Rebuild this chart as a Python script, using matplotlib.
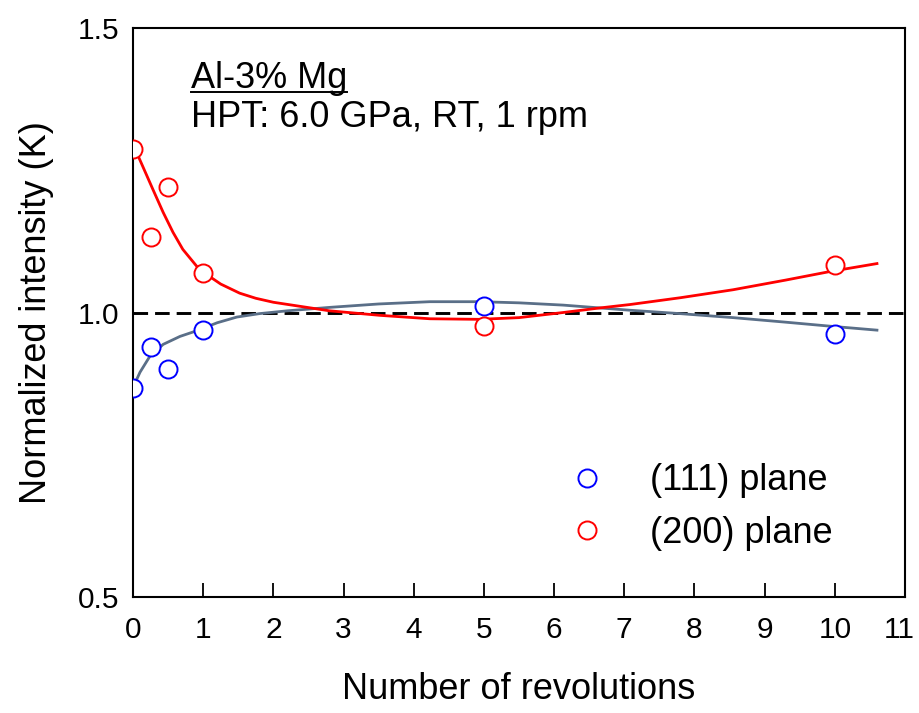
import matplotlib
matplotlib.use("Agg")
import matplotlib.pyplot as plt
from matplotlib.lines import Line2D
from matplotlib.transforms import ScaledTranslation

plt.rcParams['font.family'] = ['Liberation Sans', 'DejaVu Sans']

# measured normalized intensities
revs = [0, 0.25, 0.5, 1, 5, 10]
k111 = [0.868, 0.940, 0.900, 0.970, 1.012, 0.963]
k200 = [1.288, 1.132, 1.221, 1.070, 0.977, 1.083]

# trend curves
fit200_x = [0.0, 0.085, 0.285, 0.43, 0.57, 0.71, 0.91, 1.0, 1.25, 1.52, 1.75, 2.0,
            2.48, 2.8, 3.52, 4.23, 4.94, 5.5, 6.13, 6.65, 7.08, 7.8, 8.55, 9.3,
            9.93, 10.6]
fit200_y = [1.288, 1.272, 1.216, 1.176, 1.141, 1.111, 1.081, 1.071, 1.050, 1.034,
            1.025, 1.018, 1.009, 1.003, 0.995, 0.989, 0.988, 0.991, 1.000, 1.008,
            1.014, 1.026, 1.040, 1.057, 1.072, 1.086]
fit111_x = [0.0, 0.1, 0.24, 0.43, 0.67, 0.91, 1.2, 1.48, 1.8, 2.2, 2.8, 3.5, 4.23,
            4.94, 5.5, 6.13, 7.08, 7.8, 8.55, 9.3, 9.93, 10.6]
fit111_y = [0.868, 0.895, 0.923, 0.944, 0.958, 0.968, 0.982, 0.992, 0.998, 1.003,
            1.009, 1.015, 1.019, 1.019, 1.017, 1.013, 1.004, 0.998, 0.991, 0.983,
            0.976, 0.969]

fig = plt.figure(figsize=(9.19, 7.13), dpi=100)
ax = fig.add_axes([0.1447, 0.1627, 0.8401, 0.798])

ax.axhline(1.0, color='black', linestyle=(0, (5, 2.4)), linewidth=2.1, zorder=1)
ax.plot(fit111_x, fit111_y, color='#5a6f88', linewidth=2.0, zorder=2)
ax.plot(fit200_x, fit200_y, color='#ff0000', linewidth=2.0, zorder=2)
ax.plot(revs, k111, linestyle='none', marker='o', markersize=13, markerfacecolor='white',
        markeredgecolor='#0000ff', markeredgewidth=1.4, zorder=3)
ax.plot(revs, k200, linestyle='none', marker='o', markersize=13, markerfacecolor='white',
        markeredgecolor='#ff0000', markeredgewidth=1.4, zorder=3)

ax.set_xlim(0, 11)
ax.set_ylim(0.5, 1.5)
ax.set_xticks(range(0, 12))
ax.set_yticks([0.5, 1.0, 1.5])
ax.set_yticklabels(['0.5', '1.0', '1.5'])
ax.tick_params(axis='x', direction='in', length=10, width=1.3, labelsize=21.5, pad=14)
ax.tick_params(axis='y', length=0, labelsize=21.5, pad=10)
for s in ax.spines.values():
    s.set_linewidth(1.5)

# keep the "11" inside the figure
last = ax.get_xticklabels()[-1]
last.set_transform(last.get_transform() + ScaledTranslation(-6 / 100, 0, fig.dpi_scale_trans))

ax.set_xlabel('Number of revolutions', fontsize=26, labelpad=20)
ax.set_ylabel('Normalized intensity (K)', fontsize=26, labelpad=17)

leg_handles = [
    Line2D([], [], linestyle='none', marker='o', markersize=13, markerfacecolor='white',
           markeredgecolor='#0000ff', markeredgewidth=1.4),
    Line2D([], [], linestyle='none', marker='o', markersize=13, markerfacecolor='white',
           markeredgecolor='#ff0000', markeredgewidth=1.4),
]
ax.legend(leg_handles, ['(111) plane', '(200) plane'], loc='lower right', frameon=False,
          fontsize=26, handletextpad=0.75, labelspacing=0.49, borderaxespad=0.5,
          bbox_to_anchor=(0.948, 0.024))

title = ax.text(0.075, 0.912, 'Al-3% Mg', transform=ax.transAxes, fontsize=26,
                va='center', ha='left')
ax.text(0.075, 0.842, 'HPT: 6.0 GPa, RT, 1 rpm', transform=ax.transAxes, fontsize=26,
        va='center', ha='left')

# underline the alloy name
fig.canvas.draw()
bb = title.get_window_extent()
inv = fig.transFigure.inverted()
(x0, y0), (x1, _) = inv.transform([(bb.x0, bb.y0 + 4), (bb.x1, bb.y0 + 4)])
fig.add_artist(Line2D([x0, x1], [y0, y0], color='black', linewidth=1.4,
                      transform=fig.transFigure))

fig.savefig('out.png', dpi=100)
